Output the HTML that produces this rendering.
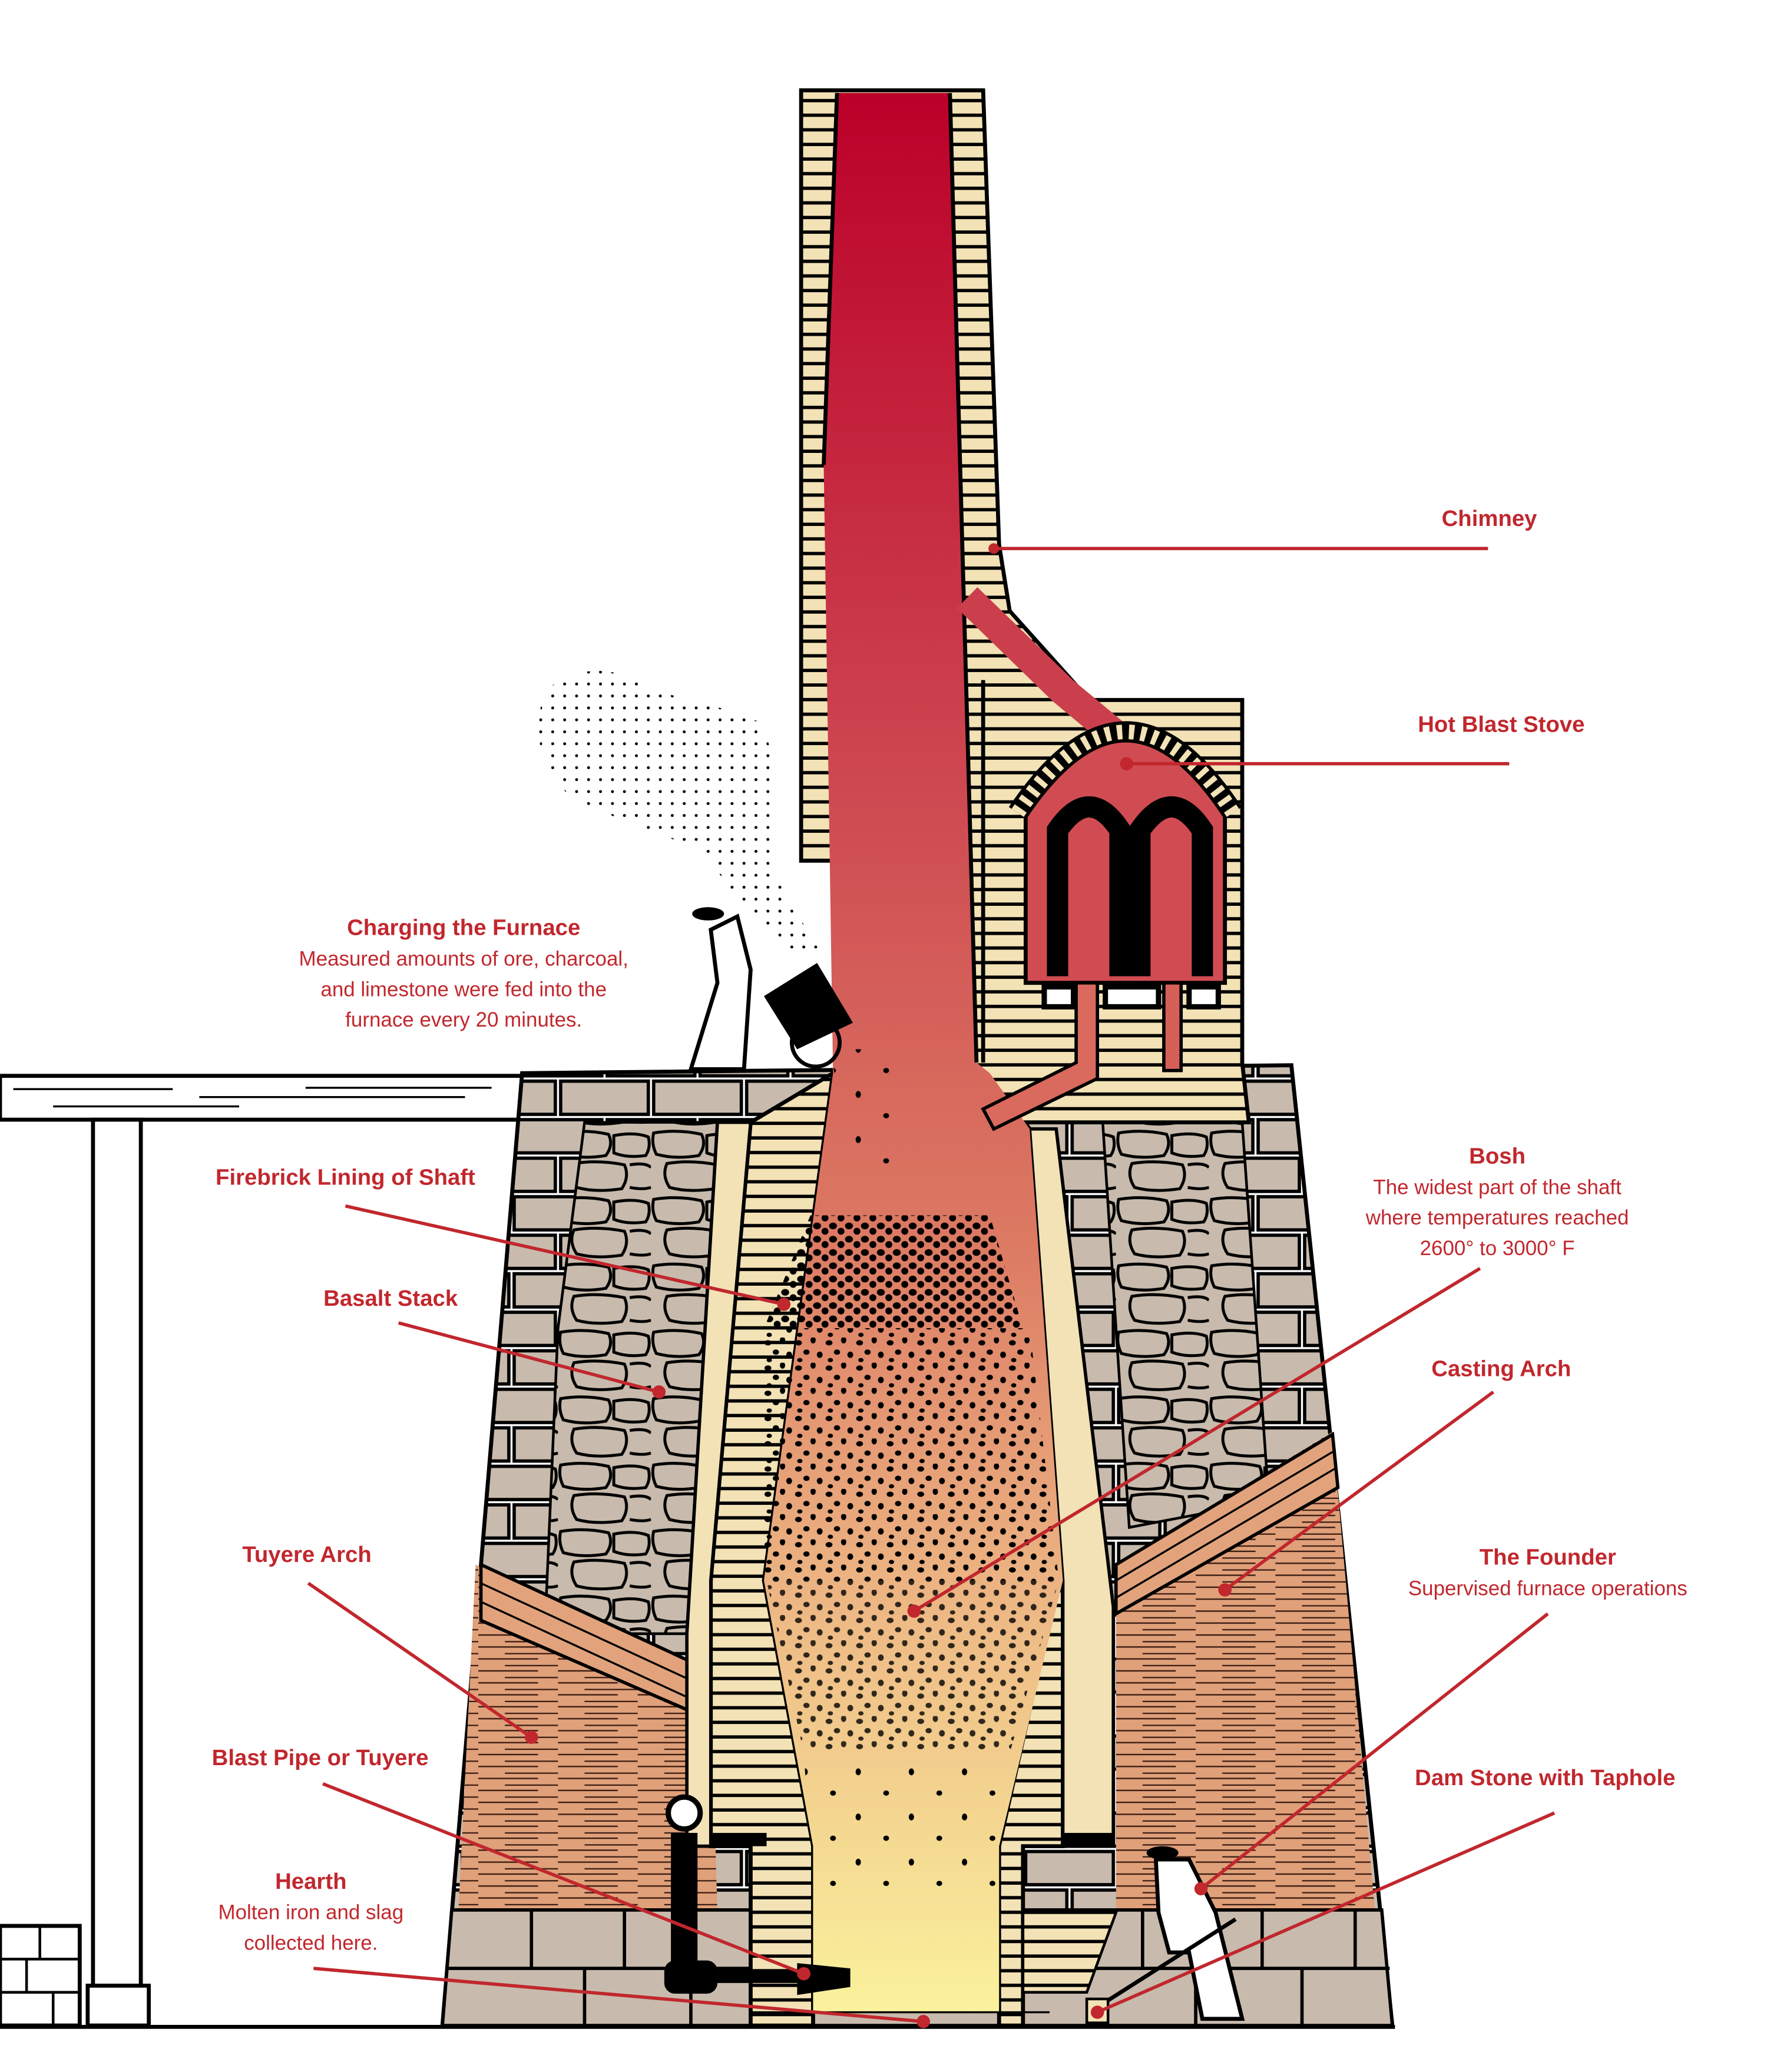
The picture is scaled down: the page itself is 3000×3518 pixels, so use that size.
<!DOCTYPE html>
<html><head><meta charset="utf-8"><style>
html,body{margin:0;padding:0;background:#fff}
svg{display:block}
text{font-family:"Liberation Sans",sans-serif;fill:#c1272d}
.t{font-weight:bold;font-size:17px}
.b{font-size:15.5px}
</style></head><body>
<svg width="3000" height="3518" viewBox="0 0 1330 1560" preserveAspectRatio="none" xmlns="http://www.w3.org/2000/svg">
<defs>
<linearGradient id="g" x1="0" y1="0" x2="0" y2="1">
<stop offset="0" stop-color="#bb0029"/>
<stop offset="0.35" stop-color="#cd4650"/>
<stop offset="0.6" stop-color="#dc7a63"/>
<stop offset="0.8" stop-color="#eebb86"/>
<stop offset="1" stop-color="#faf29c"/>
</linearGradient>
<pattern id="brick" width="40" height="11" patternUnits="userSpaceOnUse">
<rect width="40" height="11" fill="#f2e2b6"/><rect y="8.5" width="40" height="2.5" fill="#000"/>
</pattern>
<pattern id="redbrick" width="60" height="9" patternUnits="userSpaceOnUse">
<rect width="60" height="9" fill="#dfa07a"/><path d="M0 7h45M20 3h40" stroke="#3a1a10" stroke-width="1"/>
</pattern>
<pattern id="stone" width="70" height="58" patternUnits="userSpaceOnUse">
<rect width="70" height="58" fill="#fff"/>
<rect x="2" y="2" width="66" height="25" fill="#c8bbad" stroke="#000" stroke-width="2.5"/>
<rect x="-33" y="31" width="66" height="25" fill="#c8bbad" stroke="#000" stroke-width="2.5"/>
<rect x="37" y="31" width="66" height="25" fill="#c8bbad" stroke="#000" stroke-width="2.5"/>
</pattern>
<pattern id="rubble" width="70" height="50" patternUnits="userSpaceOnUse">
<rect width="70" height="50" fill="#c8bbad"/>
<g fill="none" stroke="#000" stroke-width="2.2">
<path d="M2 3 Q20 0 38 4 Q42 12 36 20 Q18 23 4 19 Q0 11 2 3Z"/>
<path d="M42 5 Q58 2 68 6 Q70 14 66 20 Q52 22 42 18 Z"/>
<path d="M12 26 Q30 23 50 27 Q54 36 48 45 Q28 48 14 44 Q8 35 12 26Z"/>
<path d="M54 27 Q66 25 70 29 M54 44 Q64 46 70 44"/>
</g>
</pattern>
<pattern id="dots" width="23" height="19" patternUnits="userSpaceOnUse">
<ellipse cx="3" cy="4" rx="2.6" ry="2" fill="#000"/><ellipse cx="14" cy="2" rx="2" ry="2.5" fill="#000"/>
<ellipse cx="9" cy="11" rx="2.4" ry="2" fill="#000"/><ellipse cx="19" cy="13" rx="2.2" ry="2.4" fill="#000"/>
<ellipse cx="4" cy="17" rx="2" ry="1.6" fill="#000"/>
</pattern>
<pattern id="dotsD" width="12" height="10" patternUnits="userSpaceOnUse">
<ellipse cx="3" cy="3" rx="3" ry="2.5" fill="#000"/><ellipse cx="9" cy="7" rx="2.6" ry="2.6" fill="#000"/>
</pattern>
<pattern id="dotsS" width="40" height="34" patternUnits="userSpaceOnUse">
<ellipse cx="6" cy="8" rx="2" ry="2.6" fill="#000"/><ellipse cx="27" cy="24" rx="2.2" ry="2" fill="#000"/>
</pattern>
<pattern id="smoke" width="9" height="9" patternUnits="userSpaceOnUse"><circle cx="2" cy="2" r="1.1" fill="#000"/></pattern>
</defs>

<!-- left platform -->
<rect x="0" y="810" width="395" height="33" fill="#fff" stroke="#000" stroke-width="3"/>
<path d="M10 820h120M150 826h200M40 833h140M230 819h140" stroke="#000" stroke-width="1.5"/>
<rect x="70" y="843" width="36" height="652" fill="#fff" stroke="#000" stroke-width="3"/>
<rect x="66" y="1495" width="46" height="30" fill="#fff" stroke="#000" stroke-width="3"/>
<rect x="0" y="1450" width="60" height="75" fill="#fff" stroke="#000" stroke-width="3"/>
<path d="M0 1475h60M0 1500h60M30 1450v25M20 1475v25M40 1500v25" stroke="#000" stroke-width="2"/>
<line x1="0" y1="1526" x2="1050" y2="1526" stroke="#000" stroke-width="3"/>

<!-- stone stack -->
<polygon points="393,808 972,802 1048,1525 333,1525" fill="url(#stone)" stroke="#000" stroke-width="3"/>
<polygon points="440,845 570,845 548,1230 410,1230 420,1000" fill="url(#rubble)" stroke="#000" stroke-width="2"/>
<polygon points="830,845 935,845 955,1130 850,1150 840,1000" fill="url(#rubble)" stroke="#000" stroke-width="2"/>
<!-- arches -->
<polygon points="358,1178 535,1270 540,1440 345,1440" fill="url(#redbrick)"/>
<polygon points="362,1178 535,1258 535,1295 362,1220" fill="#e2a37c" stroke="#000" stroke-width="2.5"/>
<path d="M362 1192l173 80M362 1206l173 80" stroke="#000" stroke-width="1.5"/>
<polygon points="840,1178 1003,1078 1035,1440 840,1440" fill="url(#redbrick)"/>
<polygon points="840,1178 1003,1080 1007,1120 840,1215" fill="#e2a37c" stroke="#000" stroke-width="2.5"/>
<path d="M840 1190l165 -98M840 1203l166 -98" stroke="#000" stroke-width="1.5"/>
<!-- bottom row -->
<polygon points="340,1438 1040,1438 1048,1525 333,1525" fill="#c8bbad" stroke="#000" stroke-width="2.5"/>
<path d="M336 1482h710M400 1438v44M470 1438v44M440 1482v43M520 1482v43M860 1438v44M950 1438v44M900 1482v43M980 1482v43M1020 1438v44" stroke="#000" stroke-width="2.5"/>

<!-- linings -->
<polygon points="565,845 627,808 575,1190 612,1390 612,1525 565,1525 565,1390 535,1390 535,1190" fill="url(#brick)" stroke="#000" stroke-width="3"/>
<polygon points="540,845 565,845 535,1190 535,1390 517,1390 517,1230" fill="#f2e2b6" stroke="#000" stroke-width="2.5"/>
<polygon points="745,808 775,850 800,1190 800,1390 770,1390 770,1525 752,1525 752,1390 797,1190" fill="url(#brick)" stroke="#000" stroke-width="3"/>
<polygon points="775,850 795,850 838,1210 838,1390 800,1390 800,1190" fill="#f2e2b6" stroke="#000" stroke-width="2.5"/>
<rect x="535" y="1380" width="42" height="10" fill="#000"/>
<rect x="800" y="1380" width="38" height="10" fill="#000"/>
<polygon points="770,1440 840,1440 818,1500 770,1500" fill="url(#brick)" stroke="#000" stroke-width="2"/>

<!-- chimney brickwork -->
<polygon points="603,68 740,68 752,410 760,460 820,527 935,527 935,800 940,845 735,845 700,600 627,648 603,648" fill="url(#brick)" stroke="#000" stroke-width="3"/>
<!-- shaft red -->
<polygon points="630,70 715,70 735,800 745,808 775,850 800,1190 752,1390 752,1515 612,1515 612,1390 575,1190 627,808 620,350" fill="url(#g)"/>
<path d="M620,350 630,70 M715,70 735,800" stroke="#000" stroke-width="3" fill="none"/>
<!-- flue & stove -->
<path d="M728 450 L800 520 L848 560" stroke="#cb3f4c" stroke-width="22" fill="none"/>
<path d="M740 512 L740 800" stroke="#000" stroke-width="3"/>
<path d="M772 612 Q848 500 922 612 L922 740 L772 740 Z" fill="#d04c52" stroke="#000" stroke-width="3"/>
<path d="M766 612 Q848 490 928 612" stroke="#000" stroke-width="16" fill="none"/>
<path d="M766 612 Q848 490 928 612" stroke="#f2e2b6" stroke-width="11" fill="none" stroke-dasharray="4 5"/>
<path d="M796 735 V625 Q820 590 843 625 V735 M858 735 V625 Q882 590 905 625 V735" stroke="#000" stroke-width="16" fill="none"/>
<rect x="786" y="743" width="22" height="15" fill="#fff" stroke="#000" stroke-width="4"/>
<rect x="832" y="743" width="40" height="15" fill="#fff" stroke="#000" stroke-width="4"/>
<rect x="895" y="743" width="22" height="15" fill="#fff" stroke="#000" stroke-width="4"/>
<rect x="876" y="740" width="13" height="66" fill="#d66058" stroke="#000" stroke-width="2.5"/>
<polygon points="810,740 826,740 826,812 748,850 740,835 810,800" fill="#da6a5e" stroke="#000" stroke-width="2.5"/>

<!-- charge particles -->
<polygon points="610,915 745,915 770,1000 575,1000" fill="url(#dotsD)"/>
<polygon points="575,1000 775,1000 797,1190 575,1190" fill="url(#dots)"/>
<polygon points="577,1190 797,1190 760,1320 605,1320" fill="url(#dots)" opacity="0.8"/>
<polygon points="605,1320 760,1320 752,1420 612,1420" fill="url(#dotsS)"/>
<polygon points="625,790 675,790 680,880 640,880" fill="url(#dotsS)"/>
<!-- smoke -->
<path d="M410 520 Q450 490 490 520 Q540 530 575 545 Q590 600 580 650 Q600 690 620 720 L600 720 Q560 690 530 640 Q470 620 430 600 Q395 570 410 520Z" fill="url(#smoke)"/>
<!-- worker & cart -->
<path d="M520 805 L540 740 L535 700 L555 690 L565 730 L560 805 Z" fill="#fff" stroke="#000" stroke-width="3"/>
<ellipse cx="533" cy="688" rx="12" ry="5" fill="#000"/>
<polygon points="575,750 615,725 642,770 600,790" fill="#000"/>
<circle cx="614" cy="785" r="18" fill="none" stroke="#000" stroke-width="3"/>
<!-- founder -->
<path d="M870 1400 L895 1400 L915 1440 L935 1520 L905 1520 L895 1470 L880 1470 L872 1440 Z" fill="#fff" stroke="#000" stroke-width="3"/>
<ellipse cx="875" cy="1395" rx="12" ry="5" fill="#000"/>
<line x1="930" y1="1445" x2="820" y2="1515" stroke="#000" stroke-width="3"/>
<rect x="818" y="1505" width="16" height="18" fill="#f2e2b6" stroke="#000" stroke-width="2"/>
<!-- tuyere pipe -->
<rect x="505" y="1380" width="20" height="110" fill="#000"/>
<circle cx="515" cy="1365" r="12" fill="#fff" stroke="#000" stroke-width="4"/>
<rect x="500" y="1476" width="40" height="25" rx="8" fill="#000"/>
<rect x="540" y="1483" width="60" height="10" fill="#000"/>
<polygon points="600,1478 640,1482 640,1496 600,1502" fill="#000"/>
<line x1="565" y1="1515" x2="790" y2="1515" stroke="#000" stroke-width="1.5"/>

<!-- leaders -->
<g stroke="#c1272d" stroke-width="2.5" fill="none">
<path d="M748 413H1120M848 575H1136M260 908L590 982M300 996L496 1048M1114 955L688 1213M1124 1048L922 1197M232 1192L400 1308M243 1343L605 1486M236 1482L695 1522M1165 1215L904 1422M1170 1365L826 1515"/>
</g>
<g fill="#c1272d">
<circle cx="748" cy="413" r="4"/><circle cx="848" cy="575" r="5"/><circle cx="590" cy="982" r="5"/><circle cx="496" cy="1048" r="5"/><circle cx="688" cy="1213" r="5"/><circle cx="922" cy="1197" r="5"/><circle cx="400" cy="1308" r="5"/><circle cx="605" cy="1486" r="5"/><circle cx="695" cy="1522" r="5"/><circle cx="904" cy="1422" r="5"/><circle cx="826" cy="1515" r="5"/>
</g>

<!-- labels -->
<text class="t" x="1121" y="396" text-anchor="middle">Chimney</text>
<text class="t" x="1130" y="551" text-anchor="middle">Hot Blast Stove</text>
<text class="t" x="349" y="704" text-anchor="middle">Charging the Furnace</text>
<text class="b" x="349" y="727" text-anchor="middle">Measured amounts of ore, charcoal,</text>
<text class="b" x="349" y="750" text-anchor="middle">and limestone were fed into the</text>
<text class="b" x="349" y="773" text-anchor="middle">furnace every 20 minutes.</text>
<text class="t" x="260" y="892" text-anchor="middle">Firebrick Lining of Shaft</text>
<text class="t" x="294" y="983" text-anchor="middle">Basalt Stack</text>
<text class="t" x="1127" y="876" text-anchor="middle">Bosh</text>
<text class="b" x="1127" y="899" text-anchor="middle">The widest part of the shaft</text>
<text class="b" x="1127" y="922" text-anchor="middle">where temperatures reached</text>
<text class="b" x="1127" y="945" text-anchor="middle">2600° to 3000° F</text>
<text class="t" x="1130" y="1036" text-anchor="middle">Casting Arch</text>
<text class="t" x="231" y="1176" text-anchor="middle">Tuyere Arch</text>
<text class="t" x="1165" y="1178" text-anchor="middle">The Founder</text>
<text class="b" x="1165" y="1201" text-anchor="middle">Supervised furnace operations</text>
<text class="t" x="241" y="1329" text-anchor="middle">Blast Pipe or Tuyere</text>
<text class="t" x="1163" y="1344" text-anchor="middle">Dam Stone with Taphole</text>
<text class="t" x="234" y="1422" text-anchor="middle">Hearth</text>
<text class="b" x="234" y="1445" text-anchor="middle">Molten iron and slag</text>
<text class="b" x="234" y="1468" text-anchor="middle">collected here.</text>
</svg>
</body></html>
